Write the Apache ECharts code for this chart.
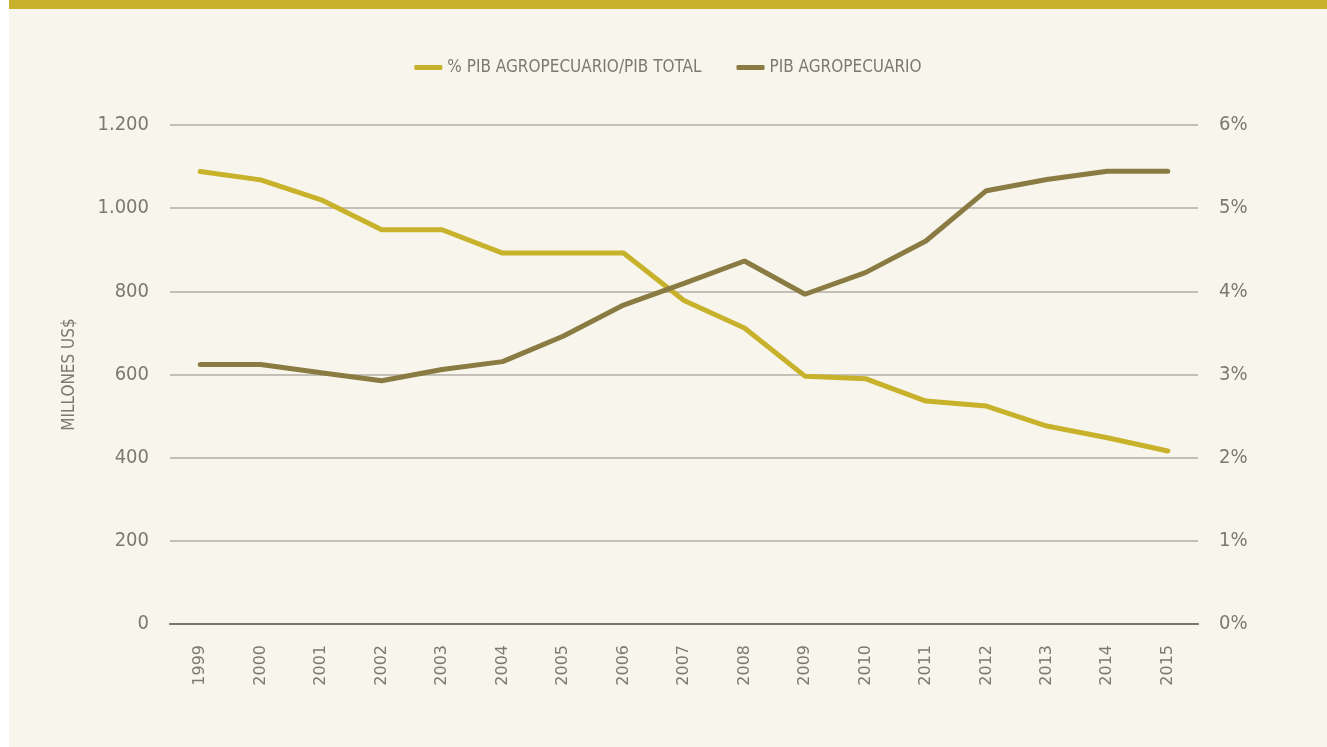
<!DOCTYPE html>
<html>
<head>
<meta charset="utf-8">
<script src="https://cdn.jsdelivr.net/npm/echarts@6/dist/echarts.min.js"></script>
<style>
  html, body { margin: 0; padding: 0; background: #ffffff; }
  #band { position: absolute; left: 9px; top: 0; width: 1318px; height: 9px; background: #c8b22b; }
  #chart { position: absolute; left: 9px; top: 9px; width: 1318px; height: 738px; background: #f8f6ec; }
</style>
</head>
<body>
<div id="band"></div>
<div id="chart"></div>
<script>
const years = ['1999', '2000', '2001', '2002', '2003', '2004', '2005', '2006', '2007',
  '2008', '2009', '2010', '2011', '2012', '2013', '2014', '2015']
// % PIB agropecuario / PIB total
const sharePct = [5.44, 5.34, 5.10, 4.74, 4.74, 4.46, 4.46, 4.46, 3.89,
  3.56, 2.98, 2.95, 2.68, 2.62, 2.38, 2.24, 2.08]
// PIB agropecuario, millones US$
const pibAgro = [624, 624, 604, 585, 612, 631, 692, 767, 819,
  873, 793, 845, 921, 1042, 1069, 1089, 1089]

const narrow = '"Liberation Sans Narrow", "DejaVu Sans Condensed", sans-serif'
const grey = '#7d7873'

const chart = echarts.init(document.getElementById('chart'))

chart.setOption({
  animation: false,
  color: ['#c8b22b', '#8a7b43'],
  legend: {
    top: 45,
    left: 'center',
    itemWidth: 28,
    itemHeight: 5,
    itemGap: 35,
    icon: 'roundRect',
    textStyle: { color: grey, fontFamily: narrow, fontSize: 17 },
    data: ['% PIB AGROPECUARIO/PIB TOTAL', 'PIB AGROPECUARIO'],
  },
  grid: { left: 161, right: 129, top: 116, bottom: 123 },
  xAxis: {
    type: 'category',
    data: years,
    axisLine: { lineStyle: { color: '#7a756f', width: 2 } },
    axisTick: { show: false },
    axisLabel: {
      rotate: 90,
      margin: 21,
      color: grey,
      fontFamily: '"DejaVu Sans", sans-serif',
      fontSize: 16,
    },
  },
  yAxis: [
    {
      type: 'value',
      min: 0,
      max: 1200,
      interval: 200,
      name: 'MILLONES US$',
      nameLocation: 'middle',
      nameGap: 92,
      nameTextStyle: { color: grey, fontFamily: narrow, fontSize: 17 },
      axisLine: { show: false },
      axisTick: { show: false },
      axisLabel: {
        margin: 21,
        color: grey,
        fontFamily: narrow,
        fontSize: 20,
        formatter: (v) => v.toLocaleString('de-DE'),
      },
      splitLine: { lineStyle: { color: '#b3aea6', width: 1.5 } },
    },
    {
      type: 'value',
      min: 0,
      max: 6,
      interval: 1,
      axisLine: { show: false },
      axisTick: { show: false },
      axisLabel: {
        margin: 21,
        color: grey,
        fontFamily: narrow,
        fontSize: 20,
        formatter: '{value}%',
      },
      splitLine: { show: false },
    },
  ],
  series: [
    {
      name: '% PIB AGROPECUARIO/PIB TOTAL',
      type: 'line',
      yAxisIndex: 1,
      data: sharePct,
      symbol: 'none',
      lineStyle: { width: 5, cap: 'round' },
    },
    {
      name: 'PIB AGROPECUARIO',
      type: 'line',
      yAxisIndex: 0,
      data: pibAgro,
      symbol: 'none',
      lineStyle: { width: 5, cap: 'round' },
    },
  ],
})
</script>
</body>
</html>
